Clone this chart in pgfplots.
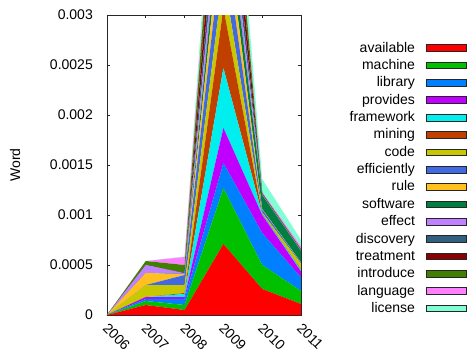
\documentclass[border=0pt]{standalone}
\usepackage{fontspec}
\setmainfont{Liberation Sans}
\usepackage{pgfplots}
\pgfplotsset{compat=1.18}
\definecolor{cA}{HTML}{FF0000}
\definecolor{cB}{HTML}{00C000}
\definecolor{cC}{HTML}{0080FF}
\definecolor{cD}{HTML}{C000FF}
\definecolor{cE}{HTML}{00EEEE}
\definecolor{cF}{HTML}{C04000}
\definecolor{cG}{HTML}{C8C800}
\definecolor{cH}{HTML}{4169E1}
\definecolor{cI}{HTML}{FFC020}
\definecolor{cJ}{HTML}{008040}
\definecolor{cK}{HTML}{C080FF}
\definecolor{cL}{HTML}{306080}
\definecolor{cM}{HTML}{8B0000}
\definecolor{cN}{HTML}{408000}
\definecolor{cO}{HTML}{FF80FF}
\definecolor{cP}{HTML}{7FFFD4}
\begin{document}
\begin{tikzpicture}
\begin{axis}[
  at={(0,0)}, anchor=south west,
  scale only axis, width=194bp, height=300bp,
  xmin=2006, xmax=2011, ymin=0, ymax=0.003,
  stack plots=y,
  xtick={2006,2007,2008,2009,2010,2011},
  xticklabels={2006,2007,2008,2009,2010,2011},
  ytick={0,0.0005,0.001,0.0015,0.002,0.0025,0.003},
  yticklabels={0,0.0005,0.001,0.0015,0.002,0.0025,0.003},
  scaled y ticks=false,
  tick align=inside, major tick length=3bp,
  axis line style={black!85, line width=0.8bp},
  every tick/.style={black!85, line width=0.6bp},
  tick label style={font=\fontsize{14bp}{16bp}\selectfont},
  yticklabel style={inner sep=0pt, anchor=east, xshift=-14bp},
  xticklabel style={inner sep=0pt, xshift=2bp, yshift=-7bp, rotate=-45, anchor=north west},
  ylabel={Word},
  ylabel style={font=\fontsize{14bp}{16bp}\selectfont, at={(axis description cs:-0.474,0.5)}, anchor=center},
  legend style={draw=none, fill=none, inner sep=0pt, outer sep=0pt,
    font=\fontsize{14bp}{16bp}\selectfont, row sep=3.35bp,
    nodes={inner sep=0pt, text height=11bp, text depth=3bp},
    at={(axis description cs:1.8541,0.9127)}, anchor=north east,
    /tikz/every odd column/.append style={column sep=11bp}},
  legend cell align=right,
  legend plot pos=right,
  legend image code/.code={\draw[#1,draw=black!85,line width=0.7bp] (0bp,-3.3bp) rectangle (40bp,3.4bp);},
]
\addplot[fill=cA, draw=none] coordinates {(2006,0) (2007,0.0001) (2008,0.00005) (2009,0.00071) (2010,0.00026) (2011,0.00011)} \closedcycle;
\addlegendentry{available}
\addplot[fill=cB, draw=none] coordinates {(2006,0) (2007,0.00004) (2008,0.00005) (2009,0.00056) (2010,0.00024) (2011,0.00013)} \closedcycle;
\addlegendentry{machine}
\addplot[fill=cC, draw=none] coordinates {(2006,0) (2007,0.00002) (2008,0.00006) (2009,0.00025) (2010,0.00032) (2011,0.000135)} \closedcycle;
\addlegendentry{library}
\addplot[fill=cD, draw=none] coordinates {(2006,0) (2007,0.00002) (2008,0.00002) (2009,0.00035) (2010,0.00018) (2011,0.00006)} \closedcycle;
\addlegendentry{provides}
\addplot[fill=cE, draw=none] coordinates {(2006,0) (2007,0) (2008,0.00003) (2009,0.0006) (2010,0.00001) (2011,0.000015)} \closedcycle;
\addlegendentry{framework}
\addplot[fill=cF, draw=none] coordinates {(2006,0) (2007,0) (2008,0.00001) (2009,0.0006) (2010,0.000005) (2011,0.000005)} \closedcycle;
\addlegendentry{mining}
\addplot[fill=cG, draw=none] coordinates {(2006,0) (2007,0.00012) (2008,0.00008) (2009,0.00033) (2010,0.00001) (2011,0.000055)} \closedcycle;
\addlegendentry{code}
\addplot[fill=cH, draw=none] coordinates {(2006,0) (2007,0) (2008,0.0001) (2009,0.00042) (2010,0.00003) (2011,0.00001)} \closedcycle;
\addlegendentry{efficiently}
\addplot[fill=cI, draw=none] coordinates {(2006,0) (2007,0.00012) (2008,0.000005) (2009,0.00029) (2010,0.000005) (2011,0.000005)} \closedcycle;
\addlegendentry{rule}
\addplot[fill=cJ, draw=none] coordinates {(2006,0) (2007,0) (2008,0.000005) (2009,0.00024) (2010,0.00014) (2011,0.000115)} \closedcycle;
\addlegendentry{software}
\addplot[fill=cK, draw=none] coordinates {(2006,0) (2007,0.00008) (2008,0.000005) (2009,0.00028) (2010,0.000005) (2011,0.000005)} \closedcycle;
\addlegendentry{effect}
\addplot[fill=cL, draw=none] coordinates {(2006,0) (2007,0) (2008,0.000005) (2009,0.00031) (2010,0.000005) (2011,0.000005)} \closedcycle;
\addlegendentry{discovery}
\addplot[fill=cM, draw=none] coordinates {(2006,0) (2007,0) (2008,0.000005) (2009,0.00038) (2010,0.000005) (2011,0.000005)} \closedcycle;
\addlegendentry{treatment}
\addplot[fill=cN, draw=none] coordinates {(2006,0) (2007,0.00004) (2008,0.000075) (2009,0.00035) (2010,0.000005) (2011,0.000005)} \closedcycle;
\addlegendentry{introduce}
\addplot[fill=cO, draw=none] coordinates {(2006,0) (2007,0) (2008,0.00008) (2009,0.00008) (2010,0.00001) (2011,0.000025)} \closedcycle;
\addlegendentry{language}
\addplot[fill=cP, draw=none] coordinates {(2006,0) (2007,0) (2008,0.000005) (2009,0.0003) (2010,0.00013) (2011,0.000065)} \closedcycle;
\addlegendentry{license}
\end{axis}
\pgfresetboundingbox
\path (-107bp,-37bp) rectangle (360bp,315bp);
\end{tikzpicture}
\end{document}
